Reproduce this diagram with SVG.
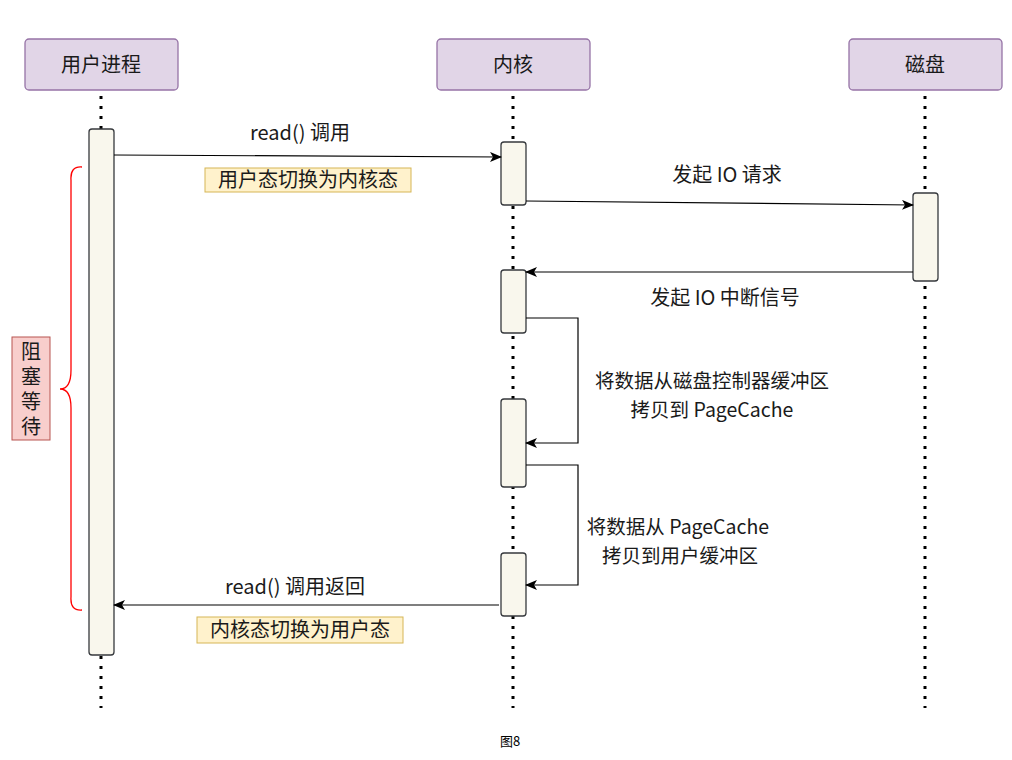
<svg xmlns="http://www.w3.org/2000/svg" width="1012" height="760" viewBox="0 0 1012 760">
<style>
.t{font-family:"Noto Sans CJK SC","Noto Sans",sans-serif;font-size:20px;fill:#1a1a1a;text-anchor:middle}
.s{font-size:19.5px}
.hdr{fill:#e1d5e7;stroke:#9673a6;stroke-width:1.3}
.act{fill:#f9f7ed;stroke:#36393d;stroke-width:1.3}
.life{stroke:#000;stroke-width:3;stroke-dasharray:3 7;fill:none}
.msg{stroke:#000;stroke-width:1.2;fill:none;marker-end:url(#ah)}
.note{fill:#fff2cc;stroke:#d6b656;stroke-width:1}
.vert{writing-mode:vertical-rl;letter-spacing:5px}
</style>
<defs>
<marker id="ah" viewBox="0 0 12 10" refX="11" refY="5" markerWidth="12" markerHeight="10" markerUnits="userSpaceOnUse" orient="auto">
<path d="M0,0 L12,5 L0,10 L3,5 z" fill="#000"/>
</marker>
</defs>
<rect width="1012" height="760" fill="#fff"/>
<g id="lifelines">
<line class="life" x1="101" y1="96" x2="101" y2="708"/>
<line class="life" x1="513" y1="96" x2="513" y2="708"/>
<line class="life" x1="925" y1="96" x2="925" y2="708"/>
</g>
<g id="p-user"><rect class="hdr" x="25" y="39" width="153" height="51" rx="4"/><text class="t" x="101" y="72">用户进程</text></g>
<g id="p-kernel"><rect class="hdr" x="437" y="39" width="153" height="51" rx="4"/><text class="t" x="513" y="72">内核</text></g>
<g id="p-disk"><rect class="hdr" x="849" y="39" width="153" height="51" rx="4"/><text class="t" x="925" y="72">磁盘</text></g>
<g id="a-user"><rect class="act" x="89" y="129" width="25" height="526" rx="3"/></g>
<g id="a-k1"><rect class="act" x="501" y="142" width="25" height="63" rx="3"/></g>
<g id="a-disk"><rect class="act" x="913" y="193" width="25" height="88" rx="3"/></g>
<g id="a-k2"><rect class="act" x="501" y="270" width="25" height="63" rx="3"/></g>
<g id="a-k3"><rect class="act" x="501" y="399" width="25" height="88" rx="3"/></g>
<g id="a-k4"><rect class="act" x="501" y="553" width="25" height="63" rx="3"/></g>
<g id="connectors">
<path class="msg" d="M114,155 L501,157"/>
<path class="msg" d="M526,201 L913,205"/>
<path class="msg" d="M913,272 L526,272"/>
<path class="msg" d="M526,318 L578,318 L578,443 L526,443"/>
<path class="msg" d="M526,465 L578,465 L578,585 L526,585"/>
<path class="msg" d="M499,605 L114,605"/>
</g>
<g id="labels">
<text class="t" x="300" y="140">read() 调用</text>
<text class="t" x="727" y="182">发起 IO 请求</text>
<text class="t" x="725" y="305">发起 IO 中断信号</text>
<text class="t s" x="712" y="388">将数据从磁盘控制器缓冲区</text>
<text class="t s" x="712" y="417">拷贝到 PageCache</text>
<text class="t s" x="678" y="534">将数据从 PageCache</text>
<text class="t s" x="680" y="563">拷贝到用户缓冲区</text>
<text class="t" x="295" y="594">read() 调用返回</text>
</g>
<g id="n-switch1"><rect class="note" x="205" y="168" width="206" height="24"/><text class="t" x="308" y="187">用户态切换为内核态</text></g>
<g id="n-switch2"><rect class="note" x="197" y="617" width="206" height="26"/><text class="t" x="300" y="637">内核态切换为用户态</text></g>
<g id="brace"><path d="M82,167 Q70,166 71,180 L71,370 Q71,389 60,389 Q71,389 71,408 L71,597 Q70,611 82,610" fill="none" stroke="#ff0000" stroke-width="1.3"/></g>
<g id="n-block"><rect x="12" y="337" width="38" height="103" fill="#f8cecc" stroke="#b85450" stroke-width="1"/>
<text class="t vert" x="31" y="391">阻塞等待</text></g>
<text x="510" y="746" style="font-family:'Noto Sans CJK SC',sans-serif;font-size:13px;fill:#000;text-anchor:middle">图8</text>
</svg>
